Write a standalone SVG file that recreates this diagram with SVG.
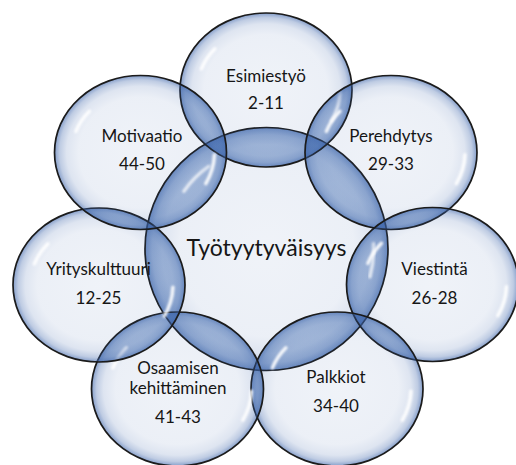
<svg xmlns="http://www.w3.org/2000/svg" xmlns:xlink="http://www.w3.org/1999/xlink" width="516" height="465" viewBox="0 0 516 465">
  <defs>
    <style>
      .body { fill: url(#bubble); stroke: #1b1b1b; stroke-width: 1.7; }
      .lens { fill: #6f93c6; fill-opacity: 0.46; }
      .gleam { fill: none; stroke: #ffffff; stroke-width: 3.5; stroke-linecap: round; opacity: 0.9; filter: url(#soft); }
      text { font-family: Lato, "Liberation Sans", sans-serif; font-size: 17px; fill: #161616; text-anchor: middle; }
      .title { font-size: 23px; }
    </style>
    <radialGradient id="bubble" cx="0.5" cy="0.5" r="0.5">
      <stop offset="0" stop-color="#3c64aa" stop-opacity="0.08"/>
      <stop offset="0.72" stop-color="#3c64aa" stop-opacity="0.1"/>
      <stop offset="0.86" stop-color="#3c64aa" stop-opacity="0.17"/>
      <stop offset="0.94" stop-color="#3c64aa" stop-opacity="0.33"/>
      <stop offset="0.985" stop-color="#3c64aa" stop-opacity="0.55"/>
      <stop offset="1" stop-color="#3c64aa" stop-opacity="0.7"/>
    </radialGradient>
    <filter id="soft" x="-50%" y="-50%" width="200%" height="200%">
      <feGaussianBlur stdDeviation="1"/>
    </filter>
    <!-- highlight streaks of an outer bubble (rx 86, ry 77) -->
    <g id="gleams">
      <path class="gleam" d="M-64.6 -21.1 A68.8 61.6 0 0 1 -51.1 -41.2"/>
      <path class="gleam" d="M73.9 2.3 A74 66.2 0 0 1 65.3 31.1"/>
    </g>
    <!-- highlight streaks of the centre bubble (r 121.5) -->
    <g id="gleams-centre">
      <path class="gleam" d="M-82.6 -57.8 A100.8 100.8 0 0 1 -57.8 -82.6"/>
      <path class="gleam" d="M106.9 -5.6 A107 107 0 0 1 103.4 27.7"/>
    </g>
    <clipPath id="clip-c"><circle cx="266.5" cy="249" r="121.5"/></clipPath>
    <clipPath id="clip-e"><ellipse cx="266" cy="90" rx="86" ry="77"/></clipPath>
    <clipPath id="clip-p"><ellipse cx="391" cy="152.5" rx="86" ry="77"/></clipPath>
    <clipPath id="clip-v"><ellipse cx="432.5" cy="284.5" rx="86" ry="77"/></clipPath>
    <clipPath id="clip-pa"><ellipse cx="337" cy="389" rx="86" ry="77"/></clipPath>
    <clipPath id="clip-o"><ellipse cx="177.5" cy="389" rx="86" ry="77"/></clipPath>
    <clipPath id="clip-y"><ellipse cx="99" cy="285" rx="86" ry="77"/></clipPath>
    <clipPath id="clip-m"><ellipse cx="140.5" cy="152.5" rx="86" ry="77"/></clipPath>
  </defs>

  <rect width="516" height="465" fill="#ffffff"/>

  <!-- tinted overlap areas, under the translucent bubbles -->
  <g id="overlaps">
    <g clip-path="url(#clip-c)">
      <ellipse class="lens" cx="266" cy="90" rx="86" ry="77"/>
      <ellipse class="lens" cx="391" cy="152.5" rx="86" ry="77"/>
      <ellipse class="lens" cx="432.5" cy="284.5" rx="86" ry="77"/>
      <ellipse class="lens" cx="337" cy="389" rx="86" ry="77"/>
      <ellipse class="lens" cx="177.5" cy="389" rx="86" ry="77"/>
      <ellipse class="lens" cx="99" cy="285" rx="86" ry="77"/>
      <ellipse class="lens" cx="140.5" cy="152.5" rx="86" ry="77"/>
    </g>
    <ellipse class="lens" cx="391" cy="152.5" rx="86" ry="77" clip-path="url(#clip-e)"/>
    <ellipse class="lens" cx="432.5" cy="284.5" rx="86" ry="77" clip-path="url(#clip-p)"/>
    <ellipse class="lens" cx="337" cy="389" rx="86" ry="77" clip-path="url(#clip-v)"/>
    <ellipse class="lens" cx="177.5" cy="389" rx="86" ry="77" clip-path="url(#clip-pa)"/>
    <ellipse class="lens" cx="99" cy="285" rx="86" ry="77" clip-path="url(#clip-o)"/>
    <ellipse class="lens" cx="140.5" cy="152.5" rx="86" ry="77" clip-path="url(#clip-y)"/>
    <ellipse class="lens" cx="266" cy="90" rx="86" ry="77" clip-path="url(#clip-m)"/>
  </g>

  <g id="tyotyytyvaisyys">
    <circle class="body" cx="266.5" cy="249" r="121.5"/>
    <use href="#gleams-centre" transform="translate(266.5 249)"/>
    <text class="title" x="266.5" y="256">Työtyytyväisyys</text>
  </g>

  <g id="esimiestyo">
    <ellipse class="body" cx="266" cy="90" rx="86" ry="77"/>
    <use href="#gleams" transform="translate(266 90)"/>
    <text x="266" y="82">Esimiestyö</text>
    <text x="266" y="109">2-11</text>
  </g>

  <g id="perehdytys">
    <ellipse class="body" cx="391" cy="152.5" rx="86" ry="77"/>
    <use href="#gleams" transform="translate(391 152.5)"/>
    <text x="391" y="142">Perehdytys</text>
    <text x="391" y="170">29-33</text>
  </g>

  <g id="viestinta">
    <ellipse class="body" cx="432.5" cy="284.5" rx="86" ry="77"/>
    <use href="#gleams" transform="translate(432.5 284.5)"/>
    <text x="434.5" y="275">Viestintä</text>
    <text x="434.5" y="304">26-28</text>
  </g>

  <g id="palkkiot">
    <ellipse class="body" cx="337" cy="389" rx="86" ry="77"/>
    <use href="#gleams" transform="translate(337 389)"/>
    <text x="336" y="383">Palkkiot</text>
    <text x="336" y="412">34-40</text>
  </g>

  <g id="osaamisen-kehittaminen">
    <ellipse class="body" cx="177.5" cy="389" rx="86" ry="77"/>
    <use href="#gleams" transform="translate(177.5 389)"/>
    <text x="178" y="374">Osaamisen</text>
    <text x="178" y="394">kehittäminen</text>
    <text x="178" y="423">41-43</text>
  </g>

  <g id="yrityskulttuuri">
    <ellipse class="body" cx="99" cy="285" rx="86" ry="77"/>
    <use href="#gleams" transform="translate(99 285)"/>
    <text x="98.5" y="275">Yrityskulttuuri</text>
    <text x="98.5" y="304">12-25</text>
  </g>

  <g id="motivaatio">
    <ellipse class="body" cx="140.5" cy="152.5" rx="86" ry="77"/>
    <use href="#gleams" transform="translate(140.5 152.5)"/>
    <text x="142" y="142">Motivaatio</text>
    <text x="142" y="170">44-50</text>
  </g>
</svg>
